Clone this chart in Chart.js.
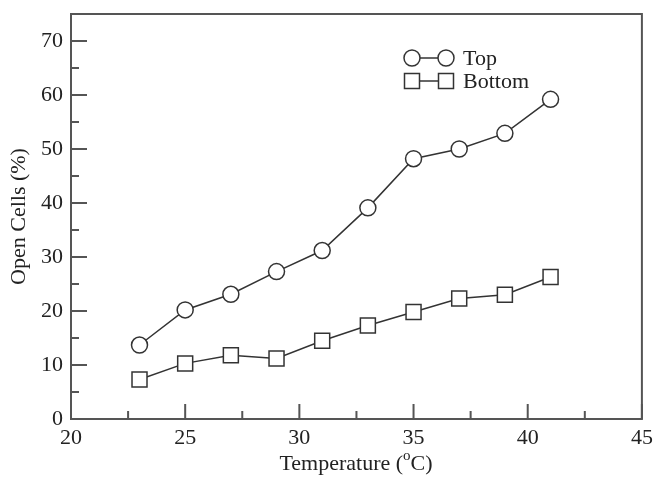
<!DOCTYPE html>
<html><head><meta charset="utf-8">
<script src="https://cdn.jsdelivr.net/npm/chart.js@4/dist/chart.umd.min.js"></script>
<style>html,body{margin:0;padding:0;background:#fff}#wrap{width:654px;height:478px}</style>
</head><body><div id="wrap"><canvas id="c" width="654" height="478"></canvas></div>
<script>
const temperatures = [23,25,27,29,31,33,35,37,39,41];
const topValues = [13.7,20.2,23.1,27.3,31.2,39.1,48.2,50.0,52.9,59.2];
const bottomValues = [7.3,10.3,11.8,11.2,14.5,17.3,19.8,22.3,23.0,26.3];
const xTicks = [20,25,30,35,40,45];
const xMinorTicks = [22.5,27.5,32.5,37.5,42.5];
const yTicks = [0,10,20,30,40,50,60,70];
const yMinorTicks = [5,15,25,35,45,55,65];
const seriesNames = ['Top','Bottom'];
const xTitleParts = ['Temperature (', 'o', 'C)'];
const yTitle = 'Open Cells (%)';

const FONT = '"Liberation Serif", "Times New Roman", serif';
const INK = '#333';
const AXIS = '#555';

function drawMarker(ctx, style, x, y) {
  ctx.save();
  ctx.fillStyle = '#fff';
  ctx.strokeStyle = INK;
  ctx.lineWidth = 1.5;
  ctx.beginPath();
  if (style === 'circle') ctx.arc(x, y, 8, 0, Math.PI * 2);
  else ctx.rect(x - 7.5, y - 7.5, 15, 15);
  ctx.fill(); ctx.stroke();
  ctx.restore();
}

const decor = {
  id: 'decor',
  afterDraw(chart) {
    const ctx = chart.ctx, a = chart.chartArea, xs = chart.scales.x, ys = chart.scales.y;
    ctx.save();
    ctx.strokeStyle = AXIS;
    ctx.lineWidth = 2;
    ctx.strokeRect(a.left, a.top, a.right - a.left, a.bottom - a.top);
    ctx.beginPath();
    xTicks.forEach(v => { const p = xs.getPixelForValue(v); ctx.moveTo(p, a.bottom); ctx.lineTo(p, a.bottom - 15); });
    xMinorTicks.forEach(v => { const p = xs.getPixelForValue(v); ctx.moveTo(p, a.bottom); ctx.lineTo(p, a.bottom - 8); });
    yTicks.forEach(v => { const p = ys.getPixelForValue(v); ctx.moveTo(a.left, p); ctx.lineTo(a.left + 16, p); });
    yMinorTicks.forEach(v => { const p = ys.getPixelForValue(v); ctx.moveTo(a.left, p); ctx.lineTo(a.left + 8, p); });
    ctx.stroke();

    // x title with superscript
    ctx.fillStyle = '#222';
    ctx.textBaseline = 'alphabetic';
    const big = '22px ' + FONT, small = '15px ' + FONT;
    ctx.font = big; const w1 = ctx.measureText(xTitleParts[0]).width;
    const w3 = ctx.measureText(xTitleParts[2]).width;
    ctx.font = small; const w2 = ctx.measureText(xTitleParts[1]).width;
    const total = w1 + w2 + w3;
    let x0 = 356 - total / 2;
    const base = 470;
    ctx.font = big; ctx.fillText(xTitleParts[0], x0, base);
    ctx.font = small; ctx.fillText(xTitleParts[1], x0 + w1, base - 10);
    ctx.font = big; ctx.fillText(xTitleParts[2], x0 + w1 + w2, base);

    // legend
    const rows = [{ name: seriesNames[0], style: 'circle', y: 58 }, { name: seriesNames[1], style: 'rect', y: 81 }];
    rows.forEach(r => {
      ctx.strokeStyle = INK; ctx.lineWidth = 1.5;
      ctx.beginPath(); ctx.moveTo(412, r.y); ctx.lineTo(446, r.y); ctx.stroke();
      drawMarker(ctx, r.style, 412, r.y);
      drawMarker(ctx, r.style, 446, r.y);
      ctx.fillStyle = '#222'; ctx.font = big; ctx.textBaseline = 'middle';
      ctx.fillText(r.name, 463, r.y + 1);
    });
    ctx.restore();
  }
};

new Chart(document.getElementById('c'), {
  type: 'line',
  data: {
    datasets: [
      { label: seriesNames[0], data: temperatures.map((t, i) => ({ x: t, y: topValues[i] })),
        borderColor: INK, borderWidth: 1.5, pointStyle: 'circle', pointRadius: 8, pointHoverRadius: 8,
        pointBackgroundColor: '#fff', pointBorderColor: INK, pointBorderWidth: 1.5, tension: 0 },
      { label: seriesNames[1], data: temperatures.map((t, i) => ({ x: t, y: bottomValues[i] })),
        borderColor: INK, borderWidth: 1.5, pointStyle: 'rect', pointRadius: 10.6, pointHoverRadius: 10.6,
        pointBackgroundColor: '#fff', pointBorderColor: INK, pointBorderWidth: 1.5, tension: 0 }
    ]
  },
  options: {
    responsive: false, animation: false, devicePixelRatio: 1,
    layout: { padding: { top: 14, right: 12, left: 0, bottom: 0 } },
    plugins: { legend: { display: false }, tooltip: { enabled: false } },
    scales: {
      x: {
        type: 'linear', min: 20, max: 45,
        afterBuildTicks: s => { s.ticks = xTicks.map(v => ({ value: v })); },
        afterFit: s => { s.height = 59; s.paddingLeft = 0; s.paddingRight = 0; },
        grid: { display: false, drawTicks: false }, border: { display: false },
        ticks: { color: '#222', font: { family: FONT, size: 22 }, padding: 6, maxRotation: 0, autoSkip: false }
      },
      y: {
        type: 'linear', min: 0, max: 75,
        afterBuildTicks: s => { s.ticks = yTicks.map(v => ({ value: v })); },
        afterFit: s => { s.width = 71; s.paddingTop = 0; s.paddingBottom = 0; },
        grid: { display: false, drawTicks: false }, border: { display: false },
        title: { display: true, text: yTitle, color: '#222', font: { family: FONT, size: 22 }, padding: { top: 6, bottom: 0 } },
        ticks: { color: '#222', font: { family: FONT, size: 22 }, padding: 8, autoSkip: false }
      }
    }
  },
  plugins: [decor]
});
</script></body></html>
